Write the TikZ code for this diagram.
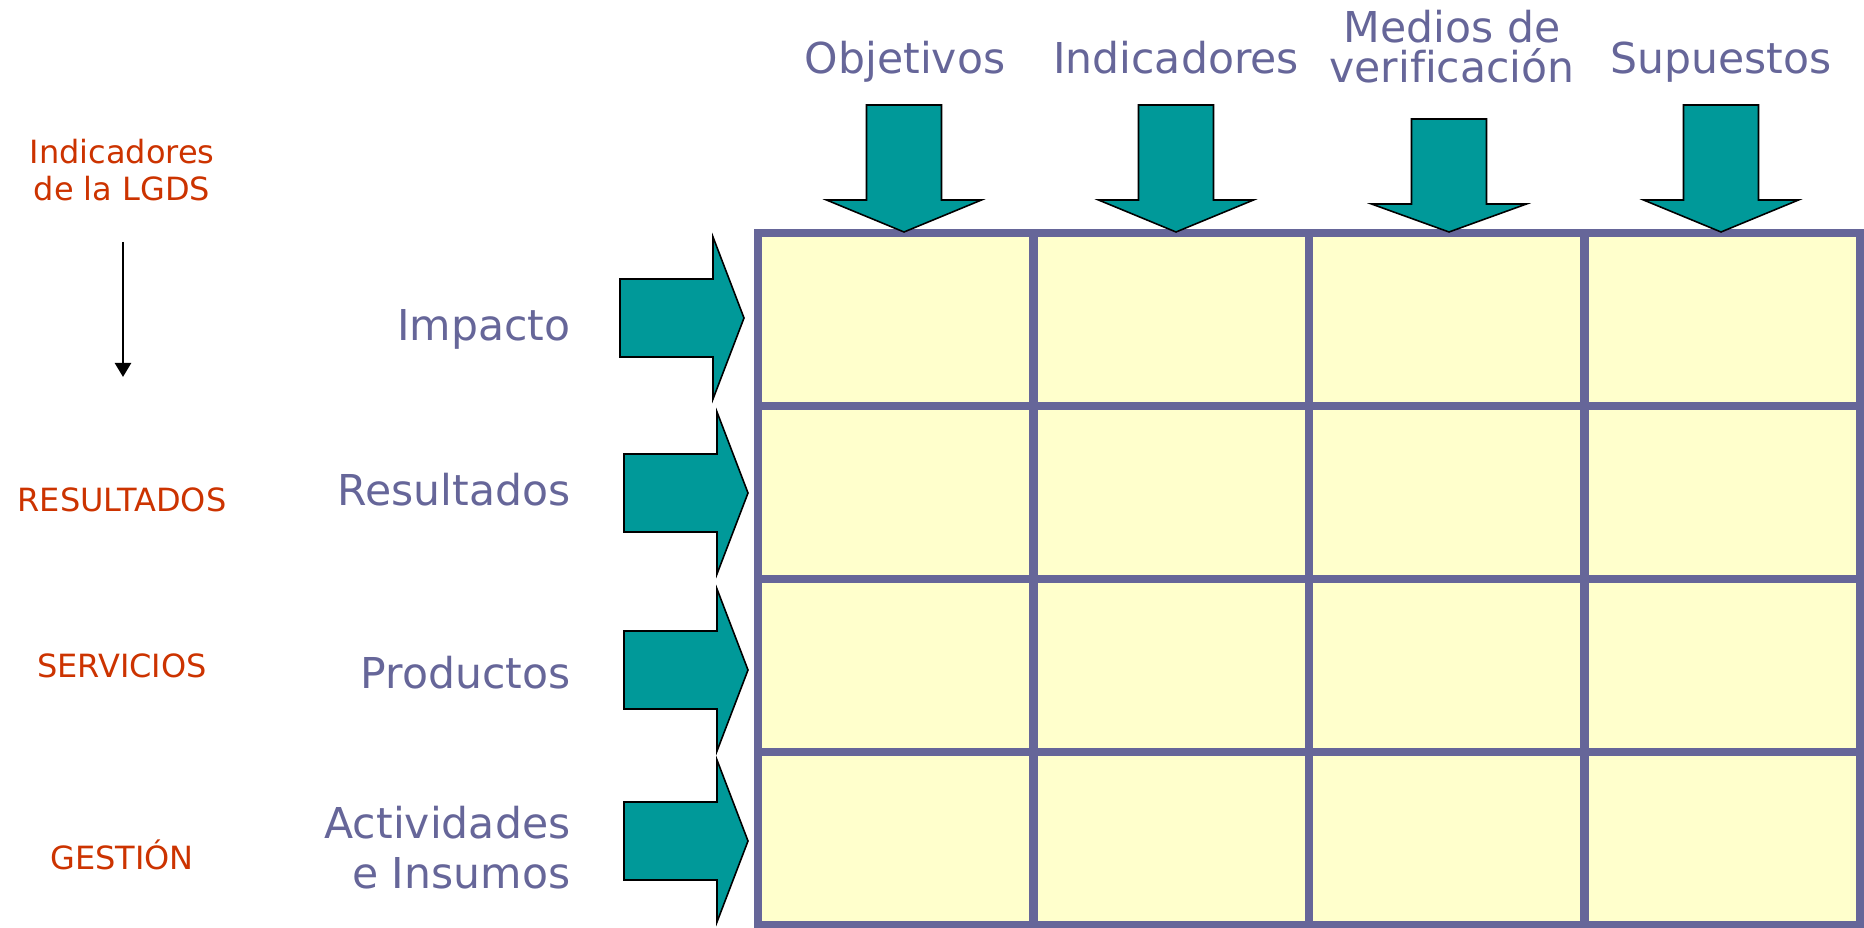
\documentclass[tikz,border=0pt]{standalone}
\usepackage{fontspec}
\setmainfont{DejaVu Sans}[Ligatures=NoCommon]
\usetikzlibrary{arrows.meta}
\definecolor{mlpurple}{HTML}{666699}
\definecolor{mlteal}{HTML}{009999}
\definecolor{mlred}{HTML}{CC3300}
\definecolor{mlcell}{HTML}{FFFFCC}

\begin{document}
\begin{tikzpicture}[x=0.01cm, y=-0.01cm,
    head/.style={text=mlpurple, inner sep=0pt, anchor=base, align=center,
      font=\fontsize{12.1pt}{11.4pt}\selectfont},
    row/.style={text=mlpurple, inner sep=0pt, anchor=base east, align=right,
      font=\fontsize{12.1pt}{14.2pt}\selectfont},
    level/.style={text=mlred, inner sep=0pt, anchor=base, align=center,
      font=\fontsize{9.1pt}{10.8pt}\selectfont},
    cell/.style={fill=mlcell, draw=mlpurple, line width=2.4pt},
    fat/.style={fill=mlteal, draw=black, line width=0.45pt}]
  \useasboundingbox (0,0) rectangle (1864,928);
  \foreach \i in {0,...,3}
    \foreach \j in {0,...,3}
      \draw [cell] (758+275.5*\i, 233+173*\j) rectangle (1033.5+275.5*\i, 406+173*\j);
  \node [head] (OB) at (905, 74) {Objetivos};
  \node [head] (IN) at (1176, 74) {Indicadores};
  \node [head] (MV) at (1452, 83) {Medios de\\verificación};
  \node [head] (SU) at (1721, 74) {Supuestos};
  \foreach \x/\t/\b in {904/105/200, 1176/105/200, 1449/119/204, 1721/105/200}
    \draw [fat] (\x-37.5,\t) -- (\x+37.5,\t) -- (\x+37.5,\b) -- (\x+77.5,\b)
      -- (\x,232) -- (\x-77.5,\b) -- (\x-37.5,\b) -- cycle;
  \foreach \l/\y in {620/318, 624/493, 624/670, 624/841}
    \draw [fat] (\l,\y-39) -- (\l+93,\y-39) -- (\l+93,\y-81) -- (\l+124,\y)
      -- (\l+93,\y+81) -- (\l+93,\y+39) -- (\l,\y+39) -- cycle;
  \node [row] (IM) at (571, 341) {Impacto};
  \node [row] (RE) at (571, 506) {Resultados};
  \node [row] (PR) at (571, 688) {Productos};
  \node [row] (AC) at (571, 888) {Actividades\\e Insumos};
  \node [level] (LG) at (122, 201) {Indicadores\\de la LGDS};
  \node [level] (RS) at (122, 512) {RESULTADOS};
  \node [level] (SV) at (122, 677) {SERVICIOS};
  \node [level] (GS) at (122, 869) {GESTIÓN};
  \coordinate (TA) at (123, 242);
  \coordinate (TB) at (123, 377);
  \draw [-{Triangle[width=4.5pt,length=4pt]}, line width=0.85pt] (TA) -- (TB);
\end{tikzpicture}
\end{document}
